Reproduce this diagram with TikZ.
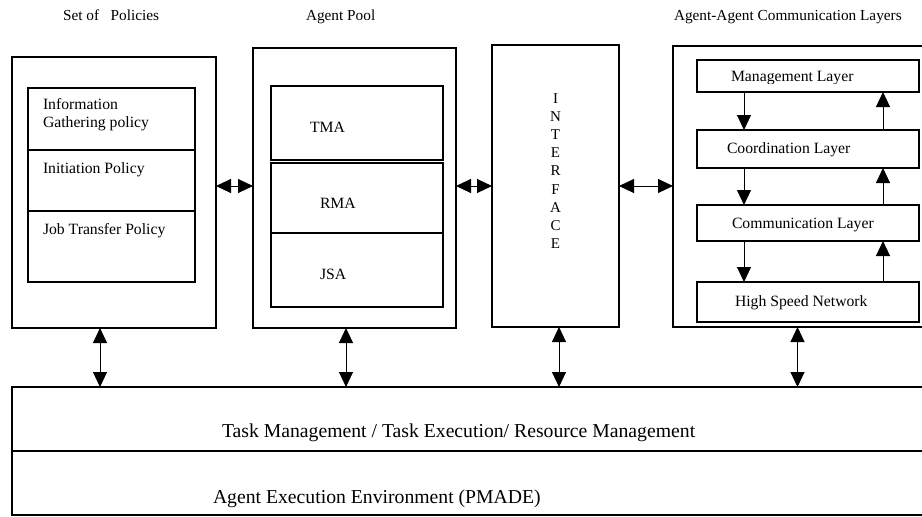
\documentclass[tikz,border=0pt]{standalone}
\usepackage{fontspec}
\setmainfont{Liberation Serif}
\usetikzlibrary{arrows.meta}
\tikzset{
  box/.style={draw, line width=1.3pt, inner sep=0pt, outer sep=0pt},
  ibox/.style={draw, line width=1.1pt, inner sep=0pt, outer sep=0pt},
  lbl/.style={anchor=base west, inner sep=0pt, outer sep=0pt, font=\fontsize{15.7}{18.1}\selectfont},
  ttl/.style={anchor=base west, inner sep=0pt, outer sep=0pt, font=\fontsize{15.3}{18}\selectfont},
  big/.style={anchor=base west, inner sep=0pt, outer sep=0pt, font=\fontsize{19.7}{22}\selectfont},
  tip/.style={line width=1pt, -{Triangle[length=15pt,width=14pt]}},
  dbl/.style={line width=1pt, {Triangle[length=15pt,width=14pt]}-{Triangle[length=15pt,width=14pt]}}
}
\begin{document}
\begin{tikzpicture}[x=1pt,y=-1pt]
\useasboundingbox (0,0) rectangle (922,517);
\clip (0,0) rectangle (922,517);
\fill[white] (0,0) rectangle (922,517);

% titles
\node[ttl] (t1) at (63,20) {Set of\ \ \ Policies};
\node[ttl] (t2) at (306,20) {Agent Pool};
\node[ttl] (t3) at (674,20) {Agent-Agent Communication Layers};

% set of policies
\node[box, minimum width=204pt, minimum height=271pt] (pol) at (114,192.5) {};
\node[ibox, minimum width=167pt, minimum height=62pt] (info) at (111.5,119) {};
\node[ibox, minimum width=167pt, minimum height=61pt] (init) at (111.5,180.5) {};
\node[ibox, minimum width=167pt, minimum height=71pt] (job) at (111.5,246.5) {};
\node[lbl] (infoa) at (43,109.5) {Information};
\node[lbl] (infob) at (43,127.5) {Gathering policy};
\node[lbl] (initt) at (43,173) {Initiation Policy};
\node[lbl] (jobt) at (43,234) {Job Transfer Policy};

% agent pool
\node[box, minimum width=203pt, minimum height=280pt] (pool) at (354.5,188) {};
\node[ibox, minimum width=172pt, minimum height=74pt] (tma) at (357,123) {};
\node[ibox, minimum width=172pt, minimum height=70pt] (rma) at (357,198) {};
\node[ibox, minimum width=172pt, minimum height=74pt] (jsa) at (357,270) {};
\node[lbl] (tmat) at (310,132) {TMA};
\node[lbl] (rmat) at (320,208) {RMA};
\node[lbl] (jsat) at (320,279) {JSA};

% interface
\node[box, minimum width=127pt, minimum height=282pt] (iface) at (555.5,186) {};
\node[inner sep=0pt, align=center, font=\fontsize{15}{18.1}\selectfont] (ifacet) at (555.5,171)
  {I\\N\\T\\E\\R\\F\\A\\C\\E};

% communication layers
\node[box, minimum width=262pt, minimum height=281pt] (comm) at (804,186.5) {};
\node[ibox, minimum width=222pt, minimum height=32pt] (mg) at (808,76) {};
\node[ibox, minimum width=222pt, minimum height=38pt] (co) at (808,149) {};
\node[ibox, minimum width=222pt, minimum height=36pt] (cm) at (808,223) {};
\node[ibox, minimum width=222pt, minimum height=40pt] (hs) at (808,302) {};
\begin{scope}
\clip (697,60) rectangle (919,83);
\node[lbl] (mgt) at (731,81) {Management Layer};
\end{scope}
\node[lbl] (cot) at (727,153) {Coordination Layer};
\node[lbl] (cmt) at (732,228) {Communication Layer};
\node[lbl] (hst) at (735,306) {High Speed Network};

% layer arrows
\draw[tip] ([xshift=-64pt]mg.south) -- ([xshift=-64pt]co.north);
\draw[tip] ([xshift=-64pt]co.south) -- ([xshift=-64pt]cm.north);
\draw[tip] ([xshift=-64pt]cm.south) -- ([xshift=-64pt]hs.north);
\draw[tip] ([xshift=75pt]co.north) -- ([xshift=75pt]mg.south);
\draw[tip] ([xshift=75pt]cm.north) -- ([xshift=75pt]co.south);
\draw[tip] ([xshift=75pt]hs.north) -- ([xshift=75pt]cm.south);

% bottom layers
\node[box, minimum width=923pt, minimum height=64pt] (task) at (473.5,419) {};
\node[box, minimum width=923pt, minimum height=64pt] (env) at (473.5,483) {};
\node[big] (taskt) at (222,437) {Task Management / Task Execution/ Resource Management};
\node[big] (envt) at (213,503) {Agent Execution Environment (PMADE)};

% horizontal connectors
\draw[dbl] (pol.east |- iface.west) -- (pool.west |- iface.west);
\draw[dbl] (pool.east |- iface.west) -- (iface.west);
\draw[dbl] (iface.east) -- (iface.east -| comm.west);

% vertical connectors
\draw[dbl] ([xshift=-14pt]pol.south) -- ([xshift=-14pt]pol.south |- task.north);
\draw[dbl] ([xshift=-8.5pt]pool.south) -- ([xshift=-8.5pt]pool.south |- task.north);
\draw[dbl] ([xshift=3.5pt]iface.south) -- ([xshift=3.5pt]iface.south |- task.north);
\draw[dbl] ([xshift=-6.5pt]comm.south) -- ([xshift=-6.5pt]comm.south |- task.north);
\end{tikzpicture}
\end{document}
